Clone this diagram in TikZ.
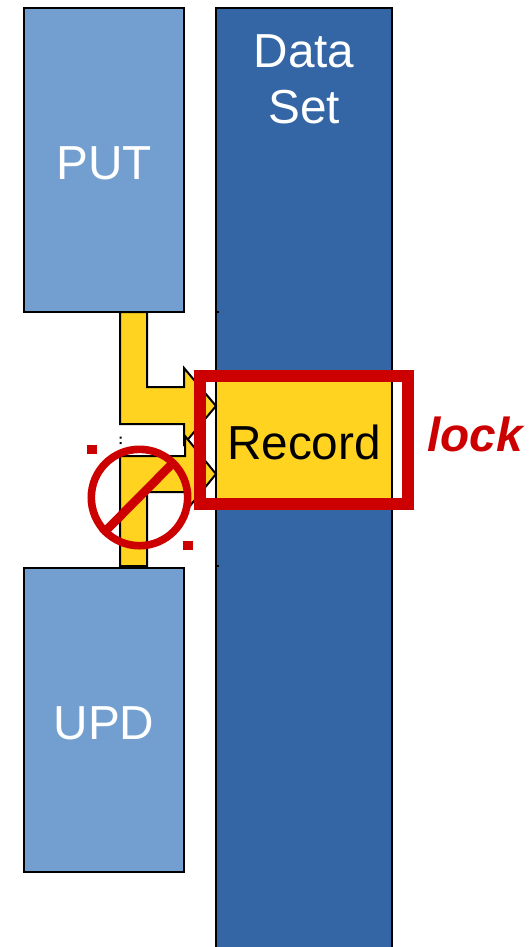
\documentclass[tikz,border=0pt]{standalone}
\usepackage{fontspec}
\setmainfont{Liberation Sans}
\definecolor{lightblue}{HTML}{729FCF}
\definecolor{darkblue}{HTML}{3465A4}
\definecolor{lockyellow}{HTML}{FFD320}
\definecolor{lockred}{HTML}{CC0000}
\tikzset{
  boxline/.style={draw=black,line width=1.5pt},
  opbox/.style={boxline,fill=lightblue,text=white,minimum width=160*0.75pt,minimum height=304*0.75pt,inner sep=0pt,font=\fontsize{36}{41}\selectfont},
  arrowshape/.style={boxline,fill=lockyellow,line join=miter},
  redmark/.style={fill=lockred,draw=none},
  label/.style={font=\fontsize{35.8}{41}\selectfont,inner sep=0pt,anchor=base}
}
\begin{document}
\begin{tikzpicture}[x=0.75pt,y=-0.75pt]
\useasboundingbox (0,0) rectangle (529,947);
\clip (0,0) rectangle (529,947);
\fill[white] (0,0) rectangle (529,947);
% data set column
\draw[boxline,fill=darkblue] (216,8) rectangle (392,970);
\node[label,text=white] (data) at (304,67.5) {Data};
\node[label,text=white] (set) at (304,123) {Set};
% operation boxes
\node[opbox] (put) at (104,160) {};
\node[opbox] (upd) at (104,720) {};
\node[label,text=white] (putlabel) at (104,179.5) {PUT};
\node[label,text=white] (updlabel) at (104,739.5) {UPD};
% handle ticks
\draw[black,line width=0.8pt] (216,312) -- (219,312) (216,566) -- (219,566);
% record
\draw[boxline,fill=lockyellow] (216,376) rectangle (392,504);
% arrows
\draw[arrowshape] (120,312) -- (147,312) -- (147,387) -- (184,387) -- (184,368) -- (216,406) -- (184,444) -- (184,424) -- (120,424) -- cycle;
\draw[arrowshape] (120,566) -- (147,566) -- (147,492) -- (185,492) -- (185,512) -- (216,474) -- (185,436) -- (185,456) -- (120,456) -- cycle;
\fill[black] (119.5,436.5) rectangle (121.5,438.5) (119.5,442) rectangle (121.5,444);
\node[label,text=black] (record) at (304,459) {Record};
% lock frame
\draw[lockred,line width=9pt,line join=miter] (200,376) rectangle (408,504);
\node[label,text=lockred,font=\fontsize{35.8}{41}\selectfont\bfseries\itshape] (lock) at (475,451) {lock};
% prohibition sign
\draw[lockred,line width=5.7pt] (139.5,497.5) circle (48.2);
\draw[lockred,line width=6.5pt] (102.5,534) -- (174,462);
\fill[redmark] (87.2,445.2) rectangle (96.8,454);
\fill[redmark] (183.4,541.4) rectangle (192.6,550.2);
\end{tikzpicture}
\end{document}
